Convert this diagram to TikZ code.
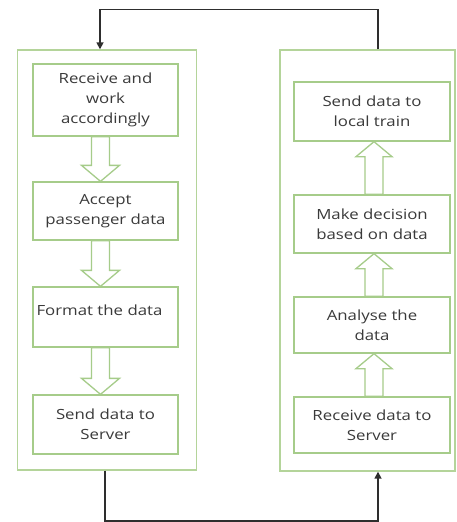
\documentclass[tikz,border=0pt]{standalone}
\usepackage{fontspec}
\setmainfont[FakeStretch=1.2]{Open Sans}
\usetikzlibrary{calc,arrows.meta}
\definecolor{lanegreen}{HTML}{B4D49A}
\definecolor{boxgreen}{HTML}{A6CC8A}
\definecolor{txtgray}{HTML}{3A3A3A}
\definecolor{linkgray}{HTML}{2E2E2E}
\tikzset{
  lane/.style={draw=lanegreen, line width=1.4pt, fill=white, rectangle},
  stepbox/.style={draw=boxgreen, line width=1.3pt, fill=white, rectangle,
    text=txtgray, align=center, inner sep=0pt,
    font=\fontsize{14}{20}\selectfont},
  hollow/.style={draw=boxgreen, line width=1.3pt, fill=white, line join=miter},
  link/.style={draw=linkgray, line width=1.6pt, -{Triangle[length=7pt,width=7pt]}},
}
% hollow block arrow pointing down, from the bottom of #1 to the top of #2
\newcommand{\downblock}[3]{%
  \draw[hollow] ($(#1.south)+(#3-9,0)$) -- ($(#2.north)+(#3-9,-16)$)
    -- ($(#2.north)+(#3-19,-16)$) -- ($(#2.north)+(#3,0)$)
    -- ($(#2.north)+(#3+19,-16)$) -- ($(#2.north)+(#3+9,-16)$)
    -- ($(#1.south)+(#3+9,0)$) -- cycle;}
% hollow block arrow pointing up, from the top of #1 to the bottom of #2
\newcommand{\upblock}[3]{%
  \draw[hollow] ($(#1.north)+(#3-9,0)$) -- ($(#2.south)+(#3-9,15)$)
    -- ($(#2.south)+(#3-18,15)$) -- ($(#2.south)+(#3,0)$)
    -- ($(#2.south)+(#3+18,15)$) -- ($(#2.south)+(#3+9,15)$)
    -- ($(#1.north)+(#3+9,0)$) -- cycle;}
\begin{document}
\begin{tikzpicture}[x=1pt,y=-1pt]
  \useasboundingbox (0,0) rectangle (457,522);

  % the two lanes
  \node[lane, minimum width=179pt, minimum height=420pt] (leftlane) at (107,260) {};
  \node[lane, minimum width=175pt, minimum height=421pt] (rightlane) at (367.5,260.5) {};

  % left lane: capture and upload
  \node[stepbox, minimum width=145pt, minimum height=72pt] (recv) at (105.5,100)
    {Receive and\\work\\accordingly};
  \node[stepbox, minimum width=145pt, minimum height=58pt] (accept) at (105.5,211)
    {Accept\\passenger data};
  \node[stepbox, minimum width=145pt, minimum height=60pt] (format) at (105.5,317) {};
  \node[text=txtgray, font=\fontsize{14}{20}\selectfont, anchor=west, inner sep=0pt]
    (formattxt) at ($(format.west)+(4,-7)$) {Format the data};
  \node[stepbox, minimum width=145pt, minimum height=59pt] (send) at (105.5,424.5)
    {Send data to\\Server};

  % right lane: server side
  \node[stepbox, minimum width=156pt, minimum height=59pt] (tolocal) at (372,111.5)
    {Send data to\\local train};
  \node[stepbox, minimum width=156pt, minimum height=58pt] (decide) at (372,224)
    {Make decision\\based on data};
  \node[stepbox, minimum width=156pt, minimum height=56pt] (analyse) at (372,325)
    {Analyse the\\data};
  \node[stepbox, minimum width=156pt, minimum height=56pt] (srvrecv) at (372,425)
    {Receive data to\\Server};

  % block arrows between steps
  \downblock{recv}{accept}{-5}
  \downblock{accept}{format}{-5}
  \downblock{format}{send}{-5}
  \upblock{srvrecv}{analyse}{2}
  \upblock{analyse}{decide}{2}
  \upblock{decide}{tolocal}{2}

  % loop connectors between the lanes
  \draw[link] ([xshift=10.5pt]rightlane.north) -- ++(0,-40) -| ([xshift=-7pt]leftlane.north);
  \draw[link] ([xshift=-2pt]leftlane.south) -- ++(0,50) -| ([xshift=10.5pt]rightlane.south);
\end{tikzpicture}
\end{document}
